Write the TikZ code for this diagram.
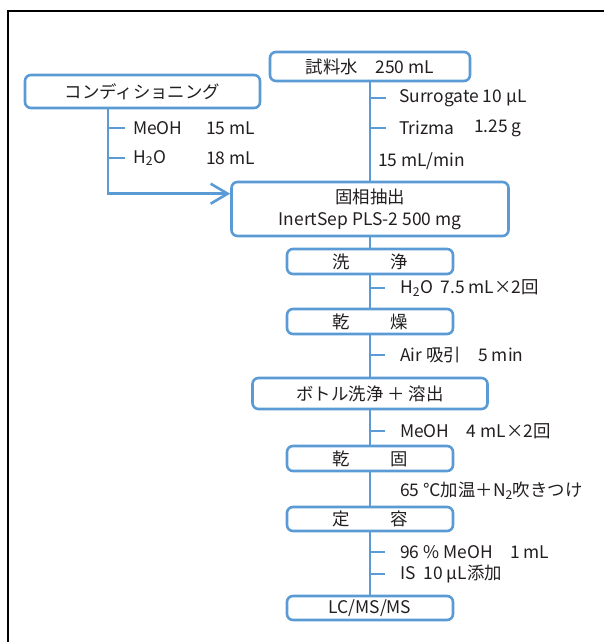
\documentclass[tikz,border=0pt]{standalone}
\usepackage{fontspec}
\setmainfont{Noto Sans CJK JP}
\usetikzlibrary{calc,arrows.meta}
\definecolor{lblue}{RGB}{91,155,213}
\definecolor{txt}{RGB}{35,31,32}
\begin{document}
\begin{tikzpicture}[x=1pt,y=-1pt,
  font=\fontsize{17.4}{22}\selectfont,
  box/.style={draw=lblue, line width=2.6pt, rounded corners=6pt, fill=white,
    text=txt, inner sep=0pt, align=center},
  lbl/.style={anchor=west, inner sep=0pt, text=txt},
  conn/.style={draw=lblue, line width=2.6pt},
  tick/.style={draw=lblue, line width=2.6pt}]
\useasboundingbox (0,0) rectangle (604,642);
\fill[white] (0,0) rectangle (604,642);
\draw[black, line width=2.5pt] (8,642) -- (8,11) -- (604,11);

% boxes
\node[box, minimum width=200pt, minimum height=29pt] (src) at (370,66.5) {試料水　250 mL};
\node[box, minimum width=235pt, minimum height=33pt] (cond) at (142.5,91.5) {コンディショニング};
\node[box, minimum width=277pt, minimum height=54pt] (spe) at (370,209) {固相抽出\\InertSep PLS-2 500 mg};
\node[box, minimum width=166pt, minimum height=25pt] (wash) at (370,261.5) {洗\hspace{2.3em}浄};
\node[box, minimum width=166pt, minimum height=25pt] (dry) at (370,321.5) {乾\hspace{2.3em}燥};
\node[box, minimum width=235pt, minimum height=31pt] (elute) at (370,393.5) {ボトル洗浄 ＋ 溶出};
\node[box, minimum width=166pt, minimum height=25pt] (evap) at (370,458.5) {乾\hspace{2.3em}固};
\node[box, minimum width=166pt, minimum height=24pt] (recon) at (370,519) {定\hspace{2.3em}容};
\node[box, minimum width=166pt, minimum height=24pt] (lcms) at (370,608) {LC/MS/MS};

% main connectors
\draw[conn] (src) -- (spe);
\draw[conn] (spe) -- (wash);
\draw[conn] (wash) -- (dry);
\draw[conn] (dry) -- (elute);
\draw[conn] (elute) -- (evap);
\draw[conn] (evap) -- (recon);
\draw[conn] (recon) -- (lcms);

% conditioning connector
\coordinate (lx) at (108,0);
\coordinate (spein) at ($(spe.north west)+(0,13)$);
\draw[conn, -{Straight Barb[length=17pt,width=20pt]}] (cond.south -| lx) |- (spein);

% ticks
\foreach \y in {98,128} {\draw[tick] (370,\y) -- (386,\y);}
\foreach \y in {128,158} {\draw[tick] (108,\y) -- (125,\y);}
\foreach \y in {288,355,431,552,574} {\draw[tick] (370,\y) -- (385,\y);}

% labels
\node[lbl] (l1) at (399,98) {Surrogate 10 µL};
\node[lbl] (l2) at (399,128) {Trizma};
\node[lbl] (l2b) at (474,128) {1.25 g};
\node[lbl] (l3) at (378,161) {15 mL/min};
\node[lbl] (c1) at (133,128) {MeOH};
\node[lbl] (c1b) at (206,128) {15 mL};
\node[lbl] (c2) at (133,158) {H\textsubscript{2}O};
\node[lbl] (c2b) at (206,158) {18 mL};
\node[lbl] (w1) at (400,288) {H\textsubscript{2}O\ \ 7.5 mL×2回};
\node[lbl] (d1) at (400,355) {Air 吸引　5 min};
\node[lbl] (e1) at (400,431) {MeOH　4 mL×2回};
\node[lbl] (v1) at (400,491) {65 ℃加温＋N\textsubscript{2}吹きつけ};
\node[lbl] (r1) at (400,552) {96 \% MeOH　1 mL};
\node[lbl] (r2) at (400,574) {IS\ \ 10 µL添加};
\end{tikzpicture}
\end{document}
